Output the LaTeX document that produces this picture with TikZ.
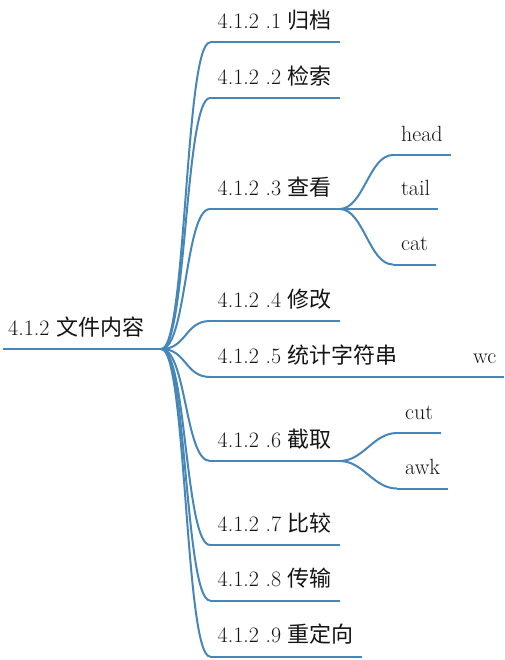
\documentclass[tikz,border=0pt]{standalone}
\usepackage{fontspec}
\newfontfamily\cjk{Noto Sans CJK SC}
\usetikzlibrary{positioning}
\definecolor{mapblue}{RGB}{70,134,184}
\definecolor{maptext}{RGB}{20,20,20}
\tikzset{
    rootstyle/.style={anchor=south west, inner xsep=5pt, inner ysep=0pt, text width=148pt, text depth=13pt, font=\fontsize{22}{26}\selectfont, text=maptext},
    topic/.style={anchor=south west, inner xsep=7.5pt, inner ysep=0pt, text depth=13.5pt, font=\fontsize{22}{26}\selectfont, text=maptext},
    subtopic/.style={topic, inner xsep=8pt},
    uline/.style={draw=mapblue, line width=2pt},
    branch/.style={draw=mapblue, line width=2pt, out=0, in=180, out distance=25pt, in distance=25pt},
    twig/.style={draw=mapblue, line width=2pt, out=0, in=180, out distance=24pt, in distance=24pt}
}

\begin{document}
\begin{tikzpicture}[x=1pt, y=-1pt]
    \useasboundingbox (0,0) rectangle (504,660);

    % Central topic
    \node[rootstyle] (root) at (3,349) {4.1.2 {\cjk 文件内容}};

    % Main topics
    \node[topic] (t1) at (210,42.5) {4.1.2 .1 {\cjk 归档}};
    \node[topic] (t2) at (210,98) {4.1.2 .2 {\cjk 检索}};
    \node[topic] (t3) at (210,209) {4.1.2 .3 {\cjk 查看}};
    \node[topic] (t4) at (210,321) {4.1.2 .4 {\cjk 修改}};
    \node[topic] (t5) at (210,377) {4.1.2 .5 {\cjk 统计字符串}};
    \node[topic] (t6) at (210,461) {4.1.2 .6 {\cjk 截取}};
    \node[topic] (t7) at (210,545) {4.1.2 .7 {\cjk 比较}};
    \node[topic] (t8) at (210,600.5) {4.1.2 .8 {\cjk 传输}};
    \node[topic] (t9) at (210,656.5) {4.1.2 .9 {\cjk 重定向}};

    % Subtopics
    \node[subtopic] (head) at (393,155) {head};
    \node[subtopic] (tail) at (393,209) {tail};
    \node[subtopic] (cat) at (393,264.5) {cat};
    \node[subtopic] (wc) at (465,377) {wc};
    \node[subtopic] (cut) at (397,433) {cut};
    \node[subtopic] (awk) at (397,488.5) {awk};

    % Underlines
    \draw[uline] (root.south west) -- (root.south east);
    \foreach \i in {1,...,9}
        \draw[uline] (t\i.south west) -- (t\i.south east);
    \foreach \s in {head,tail,cat,wc,cut,awk}
        \draw[uline] (\s.south west) -- (\s.south east);

    % Branches from the central topic
    \foreach \i in {1,...,9}
        \draw[branch] (root.south east) to (t\i.south west);

    % Branches to subtopics
    \draw[twig] (t3.south east) to (head.south west);
    \draw[uline] (t3.south east) -- (tail.south west);
    \draw[twig] (t3.south east) to (cat.south west);
    \draw[uline] (t5.south east) -- (wc.south west);
    \draw[twig] (t6.south east) to (cut.south west);
    \draw[twig] (t6.south east) to (awk.south west);
\end{tikzpicture}
\end{document}
